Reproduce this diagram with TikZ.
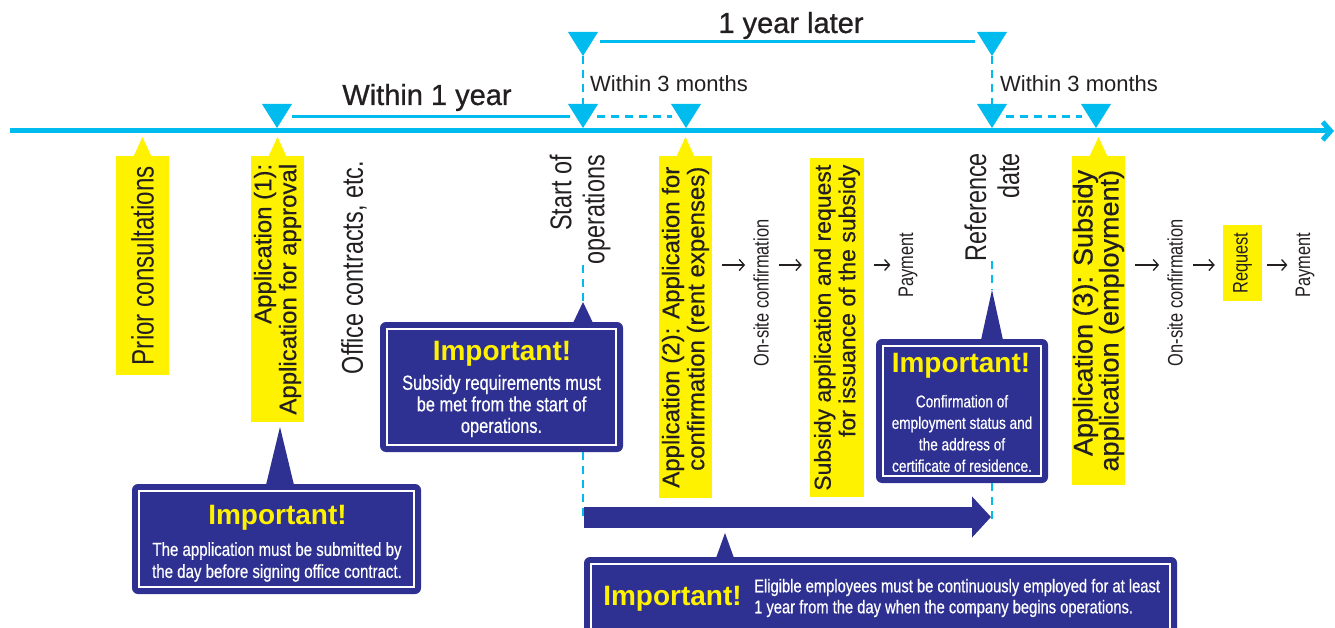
\documentclass[tikz,border=0pt]{standalone}
\usepackage{fontspec}
\setmainfont{Liberation Sans}
\newfontfamily\condfont[FakeStretch=0.78]{Liberation Sans}
\newfontfamily\condmedfont[FakeStretch=0.8, FakeBold=0.5]{Liberation Sans}
\newfontfamily\medfont[FakeBold=0.8]{Liberation Sans}
\newfontfamily\tagfont[FakeBold=0.4]{Liberation Sans}
\usepackage{xcolor}
\usepackage{tikz}
\usetikzlibrary{positioning,arrows.meta}

\definecolor{lineblue}{RGB}{0,187,238}
\definecolor{alertblue}{RGB}{46,49,146}
\definecolor{tagyellow}{RGB}{255,242,0}
\definecolor{ink}{RGB}{35,31,32}

\tikzset{
  timeline/.style={lineblue, line width=5pt, -{Straight Barb[length=8pt,width=18pt]}},
  period line/.style={lineblue, line width=3pt},
  dash line/.style={lineblue, line width=2.5pt, dash pattern=on 8pt off 6pt},
  period label/.style={inner sep=0, text=ink, font=\medfont\fontsize{29}{31}\selectfont},
  month label/.style={inner sep=0, text=ink, font=\fontsize{22}{24}\selectfont},
  tagbox/.style={rotate=90, fill=tagyellow, text=ink, align=right, inner sep=0,
    minimum height=53pt, font=\tagfont\fontsize{24}{25}\selectfont},
  stage/.style={rotate=90, align=right, inner sep=0, text=ink,
    font=\condfont\fontsize{30}{33}\selectfont},
  small step/.style={rotate=90, inner sep=0, text=ink,
    font=\condfont\fontsize{21}{22}\selectfont},
  step arrow/.style={ink, line width=1.3pt, -{Straight Barb[length=5pt,width=11pt]},
    shorten <=10pt, shorten >=8pt},
  alert box/.style={fill=alertblue, rounded corners=6pt, inner sep=0},
  alert frame/.style={white, line width=1.6pt},
  alert title/.style={inner sep=0, text=tagyellow, font=\bfseries\fontsize{28}{30}\selectfont},
  alert text/.style={inner sep=0, text=white, align=center,
    font=\condmedfont\fontsize{17}{21.5}\selectfont},
  span arrow/.style={alertblue, line width=21pt, -{Triangle[length=19pt,width=40pt]}}
}

\begin{document}
\begin{tikzpicture}[x=1pt, y=-1pt]
  \useasboundingbox (0,0) rectangle (1335,628);

  \coordinate (tlstart) at (10,131);
  \coordinate (tlend) at (1334,131);
  \coordinate (apply) at (277,128);
  \coordinate (start) at (583,128);
  \coordinate (rent) at (686,128);
  \coordinate (refdate) at (992,128);
  \coordinate (employ) at (1096,128);
  \coordinate (startup) at (583,56);
  \coordinate (refup) at (992,56);

  \draw[timeline] (tlstart) -- (tlend);

  \foreach \m in {apply, start, rent, refdate, employ, startup, refup}
    \fill[lineblue] ([shift={(-15,-24)}]\m) -- (\m) -- ([shift={(15,-24)}]\m) -- cycle;

  \draw[period line] ([shift={(15,-11)}]apply) -- ([shift={(-13,-11)}]start);
  \draw[period line, dash pattern=on 8pt off 6pt] ([shift={(14,-11)}]start) -- ([shift={(-14,-11)}]rent);
  \draw[period line, dash pattern=on 8pt off 6pt] ([shift={(14,-11)}]refdate) -- ([shift={(-14,-11)}]employ);
  \draw[period line] ([shift={(17,-14)}]startup) -- ([shift={(-17,-14)}]refup);
  \draw[dash line] (startup) -- ([shift={(0,-24)}]start);
  \draw[dash line] (refup) -- ([shift={(0,-24)}]refdate);

  \node[period label, anchor=base] (oneyear) at (427,105) {Within 1 year};
  \node[period label, anchor=base] (yearlater) at (791,33) {1 year later};
  \node[month label, anchor=base west] (threemonths1) at (590,92) {Within 3 months};
  \node[month label, anchor=base west] (threemonths2) at (1000,92) {Within 3 months};

  \node[tagbox, minimum width=219pt, anchor=east, font=\condfont\fontsize{31}{33}\selectfont]
    (prior) at (142.5,156) {Prior consultations};
  \node[tagbox, minimum width=266pt, anchor=east] (app1) at (277.5,156) {
    Application (1):\\Application for approval
  };
  \node[tagbox, minimum width=342pt, anchor=east] (app2) at (685.5,156) {
    Application (2): Application for\\confirmation (rent expenses)
  };
  \node[tagbox, minimum width=339pt, minimum height=54pt, anchor=east, font=\tagfont\fontsize{23}{24.5}\selectfont]
    (subsidy) at (837,158) {Subsidy application and request\\for issuance of the subsidy};
  \node[tagbox, minimum width=329pt, anchor=east, font=\tagfont\fontsize{27}{26}\selectfont]
    (app3) at (1098.5,156) {Application (3): Subsidy\\application (employment)};
  \node[tagbox, minimum width=76pt, minimum height=39pt, font=\condfont\fontsize{21}{22}\selectfont]
    (request) at (1242.5,263) {Request};

  \foreach \t in {prior, app1, app2, app3}
    \fill[tagyellow] ([shift={(-9,0.5)}]\t.east) -- ([shift={(0,-19)}]\t.east) -- ([shift={(9,0.5)}]\t.east) -- cycle;

  \node[stage, anchor=east] (office) at (354,161) {Office contracts, etc.};
  \node[stage, anchor=east] (opstart) at (580,155) {Start of\\operations};
  \node[stage, anchor=east] (refnode) at (992,153) {Reference\\date};

  \node[small step] (onsite1) at (761,293) {On-site confirmation};
  \node[small step] (pay1) at (908,265) {Payment};
  \node[small step] (onsite2) at (1175,293) {On-site confirmation};
  \node[small step] (pay2) at (1305,265) {Payment};

  \coordinate (row) at (0,265);
  \draw[step arrow] (app2.south |- row) -- (onsite1.north |- row);
  \draw[step arrow] (onsite1.south |- row) -- (subsidy.north |- row);
  \draw[step arrow] (subsidy.south |- row) -- (pay1.north |- row);
  \draw[step arrow] (app3.south |- row) -- (onsite2.north |- row);
  \draw[step arrow] (onsite2.south |- row) -- (request.north |- row);
  \draw[step arrow, shorten <=5pt] (request.south |- row) -- (pay2.north |- row);

  \coordinate (tipA) at (280,427);
  \coordinate (tipB) at (583,302);
  \coordinate (tipC) at (992,290);
  \coordinate (tipD) at (725,533);
  \coordinate (spanstart) at (584,517);
  \coordinate (spanend) at (991,517);
  \coordinate (refbottom) at (992,520);

  \draw[dash line] (start |- opstart.west) -- (tipB);
  \draw[dash line] (refdate |- refnode.west) -- (tipC);

  \node[alert box, minimum width=289pt, minimum height=110pt] (impA) at (276.5,539) {};
  \fill[alertblue] ([shift={(-14,58)}]tipA) -- (tipA) -- ([shift={(14,58)}]tipA) -- cycle;
  \draw[alert frame] ([shift={(7,7)}]impA.north west) rectangle ([shift={(-7,-7)}]impA.south east);
  \node[alert title, anchor=base] (titleA) at (277.5,524) {Important!};
  \node[alert text, font=\condmedfont\fontsize{18.8}{22}\selectfont] (textA) at (277,562) {
    The application must be submitted by\\the day before signing office contract.
  };

  \node[alert box, minimum width=243pt, minimum height=130pt] (impB) at (501.5,387) {};
  \fill[alertblue] ([shift={(-10,21)}]tipB) -- (tipB) -- ([shift={(10,21)}]tipB) -- cycle;
  \draw[alert frame] ([shift={(7,7)}]impB.north west) rectangle ([shift={(-7,-7)}]impB.south east);
  \node[alert title, anchor=base] (titleB) at (502,360) {Important!};
  \node[alert text, font=\condmedfont\fontsize{20.5}{21.5}\selectfont] (textB) at (501.5,406) {
    Subsidy requirements must\\be met from the start of\\operations.
  };

  \node[alert box, minimum width=172pt, minimum height=144pt] (impC) at (962,411) {};
  \fill[alertblue] ([shift={(-11,50)}]tipC) -- (tipC) -- ([shift={(11,50)}]tipC) -- cycle;
  \draw[alert frame] ([shift={(7,7)}]impC.north west) rectangle ([shift={(-7,-7)}]impC.south east);
  \node[alert title, anchor=base] (titleC) at (961,372) {Important!};
  \node[alert text] (textC) at (962,433.5) {
    Confirmation of\\employment status and\\the address of\\certificate of residence.
  };

  \draw[dash line] (start |- impB.south) -- (start |- spanstart);
  \draw[dash line] (refdate |- impC.south) -- (refbottom);
  \draw[span arrow] (spanstart) -- (spanend);

  \node[alert box, minimum width=593pt, minimum height=93pt] (impD) at (880.5,603.5) {};
  \fill[alertblue] ([shift={(-9,25)}]tipD) -- (tipD) -- ([shift={(9,25)}]tipD) -- cycle;
  \draw[alert frame] ([shift={(7,7)}]impD.north west) rectangle ([shift={(-7,-7)}]impD.south east);
  \node[alert title, anchor=base] (titleD) at (672.5,605) {Important!};
  \node[alert text, align=left, anchor=west, font=\condmedfont\fontsize{18.4}{21}\selectfont] (textD) at (754,598) {
    Eligible employees must be continuously employed for at least\\1 year from the day when the company begins operations.
  };
\end{tikzpicture}
\end{document}
